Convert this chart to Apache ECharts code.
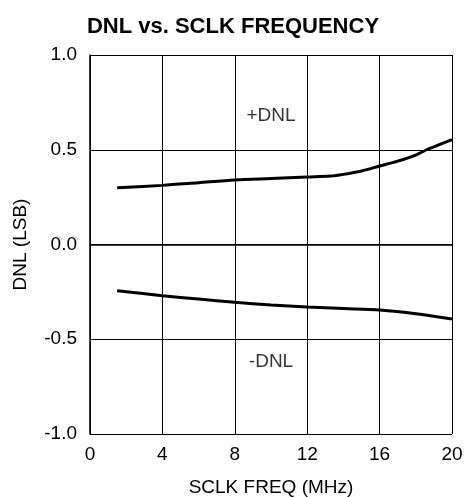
<!DOCTYPE html>
<html>
<head>
<meta charset="utf-8">
<script src="https://cdn.jsdelivr.net/npm/echarts@6/dist/echarts.min.js"></script>
<style>
html,body{margin:0;padding:0;background:#fff;}
#chart{width:466px;height:497px;}
</style>
</head>
<body>
<div id="chart"></div>
<script>
var titleText = 'DNL vs. SCLK FREQUENCY';
var xAxisName = 'SCLK FREQ (MHz)';
var yAxisName = 'DNL (LSB)';
var xTicks = [0, 4, 8, 12, 16, 20];
var yTicks = [-1.0, -0.5, 0.0, 0.5, 1.0];

var freqPos = [1.5, 4, 6, 8, 10, 12, 13.3, 14, 15, 16, 17, 18, 18.6, 19, 20];
var posDNL  = [0.300, 0.312, 0.326, 0.340, 0.348, 0.356, 0.361, 0.370, 0.388, 0.414, 0.440, 0.472, 0.500, 0.515, 0.554];

var freqNeg = [1.5, 4, 6, 8, 10, 12, 14, 16, 18, 20];
var negDNL  = [-0.244, -0.270, -0.288, -0.305, -0.319, -0.330, -0.338, -0.346, -0.365, -0.393];

var labelNames = ['+DNL', '-DNL'];
var labelX = [10, 10];
var labelY = [0.68, -0.62];

function pairs(xs, ys){ return xs.map(function(x,i){ return [x, ys[i]]; }); }

var chart = echarts.init(document.getElementById('chart'), null, {renderer:'canvas'});
var font = 'Liberation Sans, Arial, sans-serif';
chart.setOption({
  animation: false,
  backgroundColor: '#ffffff',
  title: {
    text: titleText,
    left: 'center',
    top: 11,
    textStyle: {fontFamily: font, fontSize: 22, fontWeight: 'bold', color: '#000'}
  },
  grid: {left: 90, right: 14, top: 55, bottom: 63, containLabel: false, outerBoundsMode: 'none'},
  xAxis: {
    type: 'value',
    min: 0, max: 20, interval: 4,
    name: xAxisName,
    nameLocation: 'middle',
    nameGap: 44,
    nameTextStyle: {fontFamily: font, fontSize: 19, color: '#000'},
    axisLine: {show: true, lineStyle: {color: '#000', width: 1.5}},
    axisTick: {show: false},
    axisLabel: {fontFamily: font, fontSize: 19, color: '#000', margin: 11,
      formatter: function(v){ return xTicks.indexOf(v) >= 0 ? String(v) : ''; }},
    splitLine: {show: true, lineStyle: {color: '#000', width: 1}}
  },
  yAxis: {
    type: 'value',
    min: -1, max: 1, interval: 0.5,
    name: yAxisName,
    nameLocation: 'middle',
    nameGap: 60,
    nameTextStyle: {fontFamily: font, fontSize: 19, color: '#000'},
    axisLine: {show: true, lineStyle: {color: '#000', width: 1.5}},
    axisTick: {show: false},
    axisLabel: {fontFamily: font, fontSize: 19, color: '#000', margin: 13,
      formatter: function(v){ return v.toFixed(1); }},
    splitLine: {show: true, lineStyle: {color: '#000', width: 1}}
  },
  series: [
    {
      type: 'line', name: '+DNL', data: pairs(freqPos, posDNL),
      smooth: 0.3, showSymbol: false,
      lineStyle: {color: '#000', width: 3}
    },
    {
      type: 'line', name: '-DNL', data: pairs(freqNeg, negDNL),
      smooth: 0.3, showSymbol: false,
      lineStyle: {color: '#000', width: 3}
    },
    {
      type: 'scatter', data: pairs(labelX, labelY).map(function(p, i){
        return {value: p, name: labelNames[i]};
      }),
      symbolSize: 1,
      itemStyle: {color: 'rgba(0,0,0,0)'},
      label: {show: true, position: 'inside', formatter: '{b}',
        fontFamily: font, fontSize: 19, color: '#000', textBorderWidth: 0},
      silent: true
    }
  ]
});
</script>
</body>
</html>
